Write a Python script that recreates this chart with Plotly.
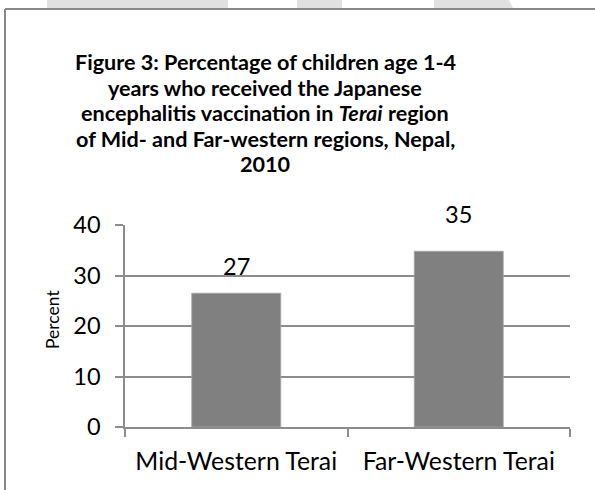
import plotly.graph_objects as go

categories = ["Mid-Western Terai", "Far-Western Terai"]
values = [26.5, 34.8]
value_labels = ["27", "35"]
y_ticks = [0, 10, 20, 30, 40]

title_lines = [
    "<b>Figure 3: Percentage of children age 1-4</b>",
    "<b>years who received the Japanese</b>",
    "<b>encephalitis vaccination in <i>Terai</i> region</b>",
    "<b>of Mid- and Far-western regions, Nepal,</b>",
    "<b>2010</b>",
]
title_line_y = [62, 87.5, 113, 138.5, 164]

FONT = "Lato"
GRID = "#8c8c8c"

def px(p):
    return (p - 125) / 445

def py(p):
    return (427 - p) / 202

fig = go.Figure()
fig.add_trace(go.Bar(
    x=categories, y=values,
    marker=dict(color="#808080", line=dict(color="#a6a6a6", width=0.8)),
    width=0.4, hoverinfo="skip",
))

label_shift = [11, 21]
for c, v, t, s in zip(categories, values, value_labels, label_shift):
    fig.add_annotation(x=c, y=v, text=t, showarrow=False, yanchor="bottom",
                       yshift=s, font=dict(family=FONT, size=23.5, color="#000"))

# title, one annotation per line
for line, yy in zip(title_lines, title_line_y):
    fig.add_annotation(x=px(265), y=py(yy), xref="paper", yref="paper",
                       text=line, showarrow=False, xanchor="center", yanchor="middle",
                       font=dict(family=FONT, size=21.6, color="#000"))

# y-axis title
fig.add_annotation(x=px(52), y=py(320), xref="paper", yref="paper",
                   text="Percent", textangle=-90, showarrow=False,
                   xanchor="center", yanchor="middle",
                   font=dict(family=FONT, size=17.5, color="#000"))

# frame and watermark
shapes = []
wm = "#e0e0e0"
shapes.append(dict(type="rect", xref="paper", yref="paper", x0=px(47), x1=px(228), y0=py(8), y1=py(-2),
                   fillcolor=wm, line=dict(width=0), layer="below"))
shapes.append(dict(type="rect", xref="paper", yref="paper", x0=px(297), x1=px(342), y0=py(8), y1=py(-2),
                   fillcolor=wm, line=dict(width=0), layer="below"))
shapes.append(dict(type="path", xref="paper", yref="paper",
                   path=f"M {px(434)} {py(-2)} L {px(508)} {py(-2)} L {px(513)} {py(8)} L {px(434)} {py(8)} Z",
                   fillcolor=wm, line=dict(width=0), layer="below"))
shapes.append(dict(type="line", xref="paper", yref="paper", x0=px(5), x1=px(5), y0=py(9), y1=py(520),
                   line=dict(color="#888888", width=2)))
shapes.append(dict(type="line", xref="paper", yref="paper", x0=px(5), x1=px(620), y0=py(9), y1=py(9),
                   line=dict(color="#888888", width=2)))

fig.update_layout(
    width=595, height=490,
    margin=dict(l=125, r=25, t=225, b=63),
    paper_bgcolor="white", plot_bgcolor="white",
    showlegend=False,
    shapes=shapes,
    bargap=0.6,
    xaxis=dict(
        showline=True, linecolor=GRID, linewidth=1.5,
        ticks="outside", tickson="boundaries", ticklen=8, tickcolor=GRID, tickwidth=1.5,
        tickfont=dict(family=FONT, size=24.8, color="#000"),
        ticklabelstandoff=11,
        showgrid=False,
    ),
    yaxis=dict(
        range=[0, 40], tickvals=y_ticks,
        showline=True, linecolor=GRID, linewidth=1.5,
        ticks="outside", ticklen=8, tickcolor=GRID, tickwidth=1.5,
        tickfont=dict(family=FONT, size=23.5, color="#000"),
        ticklabelstandoff=10,
        showgrid=True, gridcolor=GRID, gridwidth=1.5,
        zeroline=False,
    ),
)

fig.write_html("out.html", config={"displayModeBar": False},
               post_script="document.body.style.margin='0';")
